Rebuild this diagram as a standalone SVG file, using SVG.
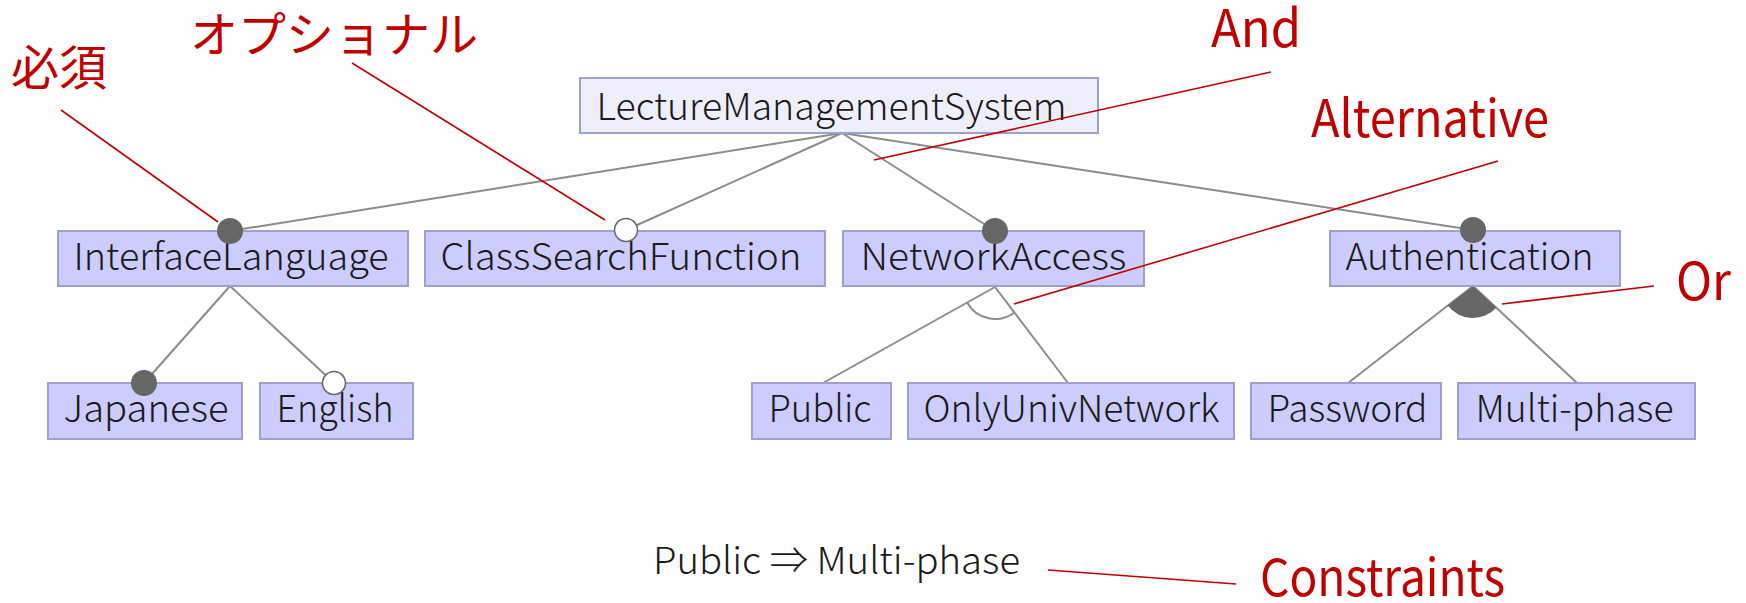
<svg xmlns="http://www.w3.org/2000/svg" width="1746" height="603" viewBox="0 0 1746 603">
  <style>
    .box { fill: #ccccff; stroke: #a0a0cc; stroke-width: 2; }
    .root { fill: #efeffc; stroke: #a0a0cc; stroke-width: 2; }
    .label { font-family: "Noto Sans CJK JP", "Liberation Sans", sans-serif; font-size: 37px; font-weight: 300; fill: #1a1a1a; text-anchor: middle; }
    .edge { stroke: #8c8c8c; stroke-width: 2; fill: none; }
    .mand { fill: #666666; }
    .opt { fill: #ffffff; stroke: #666666; stroke-width: 1.5; }
    .note { stroke: #c00000; stroke-width: 1.6; fill: none; }
    .notetext { font-family: "Noto Sans CJK JP", "Liberation Sans", sans-serif; fill: #c00000; }
  </style>

  <!-- tree connectors -->
  <g id="connectors">
    <line class="edge" x1="842" y1="133" x2="230" y2="231"/>
    <line class="edge" x1="842" y1="133" x2="626" y2="230"/>
    <line class="edge" x1="842" y1="133" x2="995" y2="231"/>
    <line class="edge" x1="842" y1="133" x2="1473" y2="230"/>
    <line class="edge" x1="230" y1="286" x2="144" y2="383"/>
    <line class="edge" x1="230" y1="286" x2="334" y2="383"/>
    <line class="edge" x1="995" y1="287" x2="823" y2="383"/>
    <line class="edge" x1="995" y1="287" x2="1068" y2="383"/>
    <line class="edge" x1="1473" y1="286" x2="1348" y2="383"/>
    <line class="edge" x1="1473" y1="286" x2="1577" y2="383"/>
    <!-- alternative group arc -->
    <path class="edge" d="M967.1 302.6 A32 32 0 0 0 1014.4 312.5"/>
    <!-- or group wedge -->
    <path class="mand" d="M1473 286 L1447.7 305.6 A32 32 0 0 0 1496.4 307.8 Z"/>
  </g>

  <g id="node-root">
    <rect class="root" x="580" y="78" width="518" height="55"/>
    <text class="label" x="831.5" y="120" textLength="470" lengthAdjust="spacingAndGlyphs">LectureManagementSystem</text>
  </g>

  <g id="node-interface-language">
    <rect class="box" x="58" y="231" width="350" height="55"/>
    <text class="label" x="231" y="270" textLength="315" lengthAdjust="spacingAndGlyphs">InterfaceLanguage</text>
  </g>
  <g id="node-class-search">
    <rect class="box" x="425" y="231" width="400" height="55"/>
    <text class="label" x="621" y="270" textLength="361" lengthAdjust="spacingAndGlyphs">ClassSearchFunction</text>
  </g>
  <g id="node-network-access">
    <rect class="box" x="843" y="231" width="301" height="55"/>
    <text class="label" x="993.5" y="270" textLength="266" lengthAdjust="spacingAndGlyphs">NetworkAccess</text>
  </g>
  <g id="node-authentication">
    <rect class="box" x="1330" y="231" width="290" height="55"/>
    <text class="label" x="1469.5" y="270" textLength="248" lengthAdjust="spacingAndGlyphs">Authentication</text>
  </g>

  <g id="node-japanese">
    <rect class="box" x="48" y="383" width="194" height="56"/>
    <text class="label" x="146" y="422" textLength="165" lengthAdjust="spacingAndGlyphs">Japanese</text>
  </g>
  <g id="node-english">
    <rect class="box" x="260" y="383" width="153" height="56"/>
    <text class="label" x="335" y="422" textLength="117" lengthAdjust="spacingAndGlyphs">English</text>
  </g>
  <g id="node-public">
    <rect class="box" x="752" y="383" width="139" height="56"/>
    <text class="label" x="820" y="422" textLength="103" lengthAdjust="spacingAndGlyphs">Public</text>
  </g>
  <g id="node-only-univ">
    <rect class="box" x="908" y="383" width="326" height="56"/>
    <text class="label" x="1071.5" y="422" textLength="296" lengthAdjust="spacingAndGlyphs">OnlyUnivNetwork</text>
  </g>
  <g id="node-password">
    <rect class="box" x="1251" y="383" width="190" height="56"/>
    <text class="label" x="1347.5" y="422" textLength="160" lengthAdjust="spacingAndGlyphs">Password</text>
  </g>
  <g id="node-multi-phase">
    <rect class="box" x="1458" y="383" width="237" height="56"/>
    <text class="label" x="1574.5" y="422" textLength="198" lengthAdjust="spacingAndGlyphs">Multi-phase</text>
  </g>

  <!-- mandatory / optional markers -->
  <g id="markers">
    <circle class="mand" cx="230" cy="231" r="13"/>
    <circle class="opt" cx="626" cy="230" r="11.5"/>
    <circle class="mand" cx="995" cy="231" r="13"/>
    <circle class="mand" cx="1473" cy="230" r="13"/>
    <circle class="mand" cx="144" cy="383" r="13"/>
    <circle class="opt" cx="334" cy="383" r="11.5"/>
  </g>

  <!-- cross-tree constraint -->
  <g id="constraint">
    <text class="label" x="653" y="574" style="text-anchor:start" textLength="367" lengthAdjust="spacingAndGlyphs">Public ⇒ Multi-phase</text>
  </g>

  <!-- legend callouts -->
  <g id="callouts">
    <line class="note" x1="61" y1="110" x2="218" y2="222"/>
    <line class="note" x1="352" y1="63" x2="605" y2="220"/>
    <line class="note" x1="1271" y1="72" x2="874" y2="160"/>
    <line class="note" x1="1498" y1="161" x2="1014" y2="304"/>
    <line class="note" x1="1654" y1="286" x2="1502" y2="304"/>
    <line class="note" x1="1048" y1="570" x2="1236" y2="584"/>
    <text class="notetext" x="11" y="85" font-size="48">必須</text>
    <text class="notetext" x="190" y="52" font-size="48">オプショナル</text>
    <text class="notetext" x="1211" y="47" font-size="52" textLength="90" lengthAdjust="spacingAndGlyphs">And</text>
    <text class="notetext" x="1311" y="137" font-size="52" textLength="238" lengthAdjust="spacingAndGlyphs">Alternative</text>
    <text class="notetext" x="1676" y="300" font-size="52" textLength="55" lengthAdjust="spacingAndGlyphs">Or</text>
    <text class="notetext" x="1260" y="596" font-size="51" textLength="245" lengthAdjust="spacingAndGlyphs">Constraints</text>
  </g>
</svg>
